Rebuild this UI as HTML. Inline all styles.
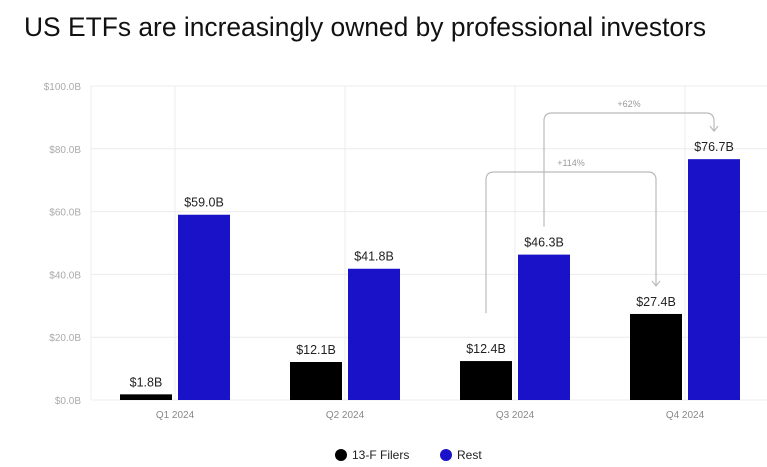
<!DOCTYPE html>
<html><head><meta charset="utf-8"><style>
body{margin:0;background:#fff;font-family:"Liberation Sans",sans-serif;}
</style></head><body>
<div style="position:relative;width:767px;height:467px;overflow:hidden">
<div style="position:absolute;left:24px;top:12px;font-size:26.4px;color:#111">US ETFs are increasingly owned by professional investors</div>
<svg id="c" width="767" height="467" style="position:absolute;left:0;top:0"></svg>
</div>
<script>
const categories=["Q1 2024","Q2 2024","Q3 2024","Q4 2024"];
const filers=[1.8,12.1,12.4,27.4];
const rest=[59.0,41.8,46.3,76.7];
const ticks=[0,20,40,60,80,100];
const growthLabels=["+114%","+62%"];
const NS="http://www.w3.org/2000/svg";
const svg=document.getElementById('c');
const y0=400,ppu=3.14,left=91,right=767,groupW=170,firstC=175,bw=52;
const Y=v=>y0-v*ppu;
const X=i=>firstC+i*groupW;
function mk(t,a,txt){const e=document.createElementNS(NS,t);for(const k in a)e.setAttribute(k,a[k]);if(txt!=null)e.textContent=txt;svg.appendChild(e);return e;}
ticks.forEach(t=>{
 let l=mk('line',{x1:left,x2:right,y1:Y(t),y2:Y(t),stroke:'#ececec','stroke-width':1});
 
 
 let tx=mk('text',{x:81,y:Y(t)+4,'text-anchor':'end','font-size':10,fill:'#aaa'},'$'+t.toFixed(1)+'B');
 
 
});
let gl=mk('line',{x1:left,x2:left,y1:Y(100),y2:y0,stroke:'#ececec'});


categories.forEach((c,i)=>{
 let l=mk('line',{x1:X(i),x2:X(i),y1:Y(100),y2:y0,stroke:'#ececec'});
 
 
});
categories.forEach((c,i)=>{
 const xb=X(i)-55,xr=X(i)+3;
 let b=mk('rect',{x:xb,y:Y(filers[i]),width:bw,height:filers[i]*ppu,fill:'#000'});
 
 
 let r=mk('rect',{x:xr,y:Y(rest[i]),width:bw,height:rest[i]*ppu,fill:'#1a12c8'});
 
 
 let t1=mk('text',{x:xb+bw/2,y:Y(filers[i])-8,'text-anchor':'middle','font-size':12.5,fill:'#222'},'$'+filers[i].toFixed(1)+'B');
 
 
 let t2=mk('text',{x:xr+bw/2,y:Y(rest[i])-8,'text-anchor':'middle','font-size':12.5,fill:'#222'},'$'+rest[i].toFixed(1)+'B');
 
 
 let cl=mk('text',{x:X(i),y:418,'text-anchor':'middle','font-size':10,fill:'#888'},c);
 
 
});
function arrow(xa,ya,xb,yb,top,label,name){
 const r=8;
 let p=mk('path',{d:`M${xa},${ya} V${top+r} Q${xa},${top} ${xa+r},${top} H${xb-r} Q${xb},${top} ${xb},${top+r} V${yb}`,fill:'none',stroke:'#bbb','stroke-width':1.2});
 
 
 let h=mk('path',{d:`M${xb-4},${yb-5} L${xb},${yb} L${xb+4},${yb-5}`,fill:'none',stroke:'#bbb','stroke-width':1.2});
 
 
 let t=mk('text',{x:(xa+xb)/2,y:top-6,'text-anchor':'middle','font-size':9,fill:'#999'},label);
 
 
}
arrow(X(2)-29,Y(filers[2])-48,X(3)-29,Y(filers[3])-28,172,growthLabels[0],'growth-arrow-filers');
arrow(X(2)+29,Y(rest[2])-28,X(3)+29,Y(rest[3])-28,113,growthLabels[1],'growth-arrow-rest');
let c1=mk('circle',{cx:341,cy:455,r:6,fill:'#000'});


let l1=mk('text',{x:352,y:459,'font-size':12,fill:'#222'},'13-F Filers');


let c2=mk('circle',{cx:446,cy:455,r:6,fill:'#1a12c8'});


let l2=mk('text',{x:457,y:459,'font-size':12,fill:'#222'},'Rest');


</script>
</body></html>
